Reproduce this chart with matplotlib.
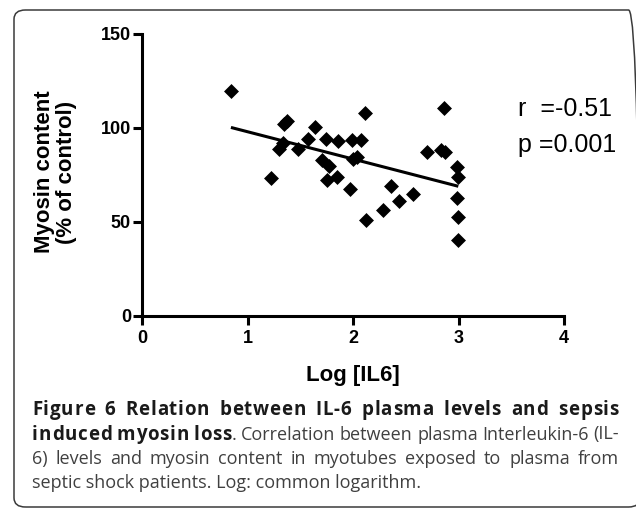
import matplotlib
matplotlib.use("Agg")
import matplotlib.pyplot as plt
from matplotlib.patches import FancyBboxPatch

# ---- data ----
log_il6 = [0.843, 1.373, 1.348, 1.641, 1.578, 1.745, 1.856, 1.989, 2.074, 2.115,
           1.341, 1.303, 1.474, 1.224, 1.707, 1.777, 1.758, 1.846, 1.973, 2.004,
           2.036, 2.124, 2.288, 2.358, 2.440, 2.572, 2.699, 2.863, 2.831, 2.875,
           2.983, 2.998, 2.983, 2.998, 2.998]
myosin = [119.8, 103.9, 102.1, 100.4, 94.0, 94.0, 93.3, 93.6, 93.6, 108.1,
          92.2, 88.7, 88.8, 73.2, 83.0, 79.8, 72.3, 73.8, 67.7, 83.3,
          84.4, 51.1, 56.4, 69.1, 61.0, 64.9, 87.2, 110.8, 88.3, 87.2,
          79.1, 73.8, 62.9, 52.5, 40.4]
fit_x = [0.843, 2.998]
fit_y = [100.3, 69.0]
x_ticks = [0, 1, 2, 3, 4]
y_ticks = [0, 50, 100, 150]
stats_lines = ["r  =-0.51", "p =0.001"]
x_label = "Log [IL6]"
y_label = "Myosin content\n(% of control)"

W, H = 636, 508
fig = plt.figure(figsize=(W / 100, H / 100), dpi=100)

def fx(px):
    return px / W

def fy(py):
    return 1 - py / H

# border
border = FancyBboxPatch((fx(14), fy(507)), fx(640 - 14), (507 - 10) / H,
                        boxstyle="round,pad=0,rounding_size=0.018",
                        transform=fig.transFigure, fill=False,
                        edgecolor="#3a3a3a", linewidth=1.1)
fig.patches.append(border)

ax = fig.add_axes([fx(142), fy(316), (564 - 142) / W, (316 - 34) / H])
ax.set_xlim(0, 4)
ax.set_ylim(0, 150)
ax.set_xticks(x_ticks)
ax.set_yticks(y_ticks)
for s in ["top", "right"]:
    ax.spines[s].set_visible(False)
for s in ["left", "bottom"]:
    ax.spines[s].set_linewidth(2.2)
ax.tick_params(axis="both", length=6.5, width=2.2, direction="out")
ax.tick_params(axis="y", pad=1.5)
ax.tick_params(axis="x", pad=3.5)
for lab in ax.get_xticklabels() + ax.get_yticklabels():
    lab.set_fontfamily("Liberation Sans")
    lab.set_fontweight("bold")
    lab.set_fontsize(13)

ax.plot(fit_x, fit_y, color="black", linewidth=2.2, solid_capstyle="butt", zorder=2)
ax.scatter(log_il6, myosin, marker="D", s=58, color="black", linewidths=0,
           zorder=3, clip_on=False)

ax.set_xlabel(x_label, fontsize=16, fontweight="bold", family="Liberation Sans")
ax.xaxis.set_label_coords(0.5, (316 - 375) / 282)
ax.xaxis.label.set_va("center")
ax.set_ylabel(y_label, fontsize=16, fontweight="bold", family="Liberation Sans",
              linespacing=1.1, multialignment="center")
ax.yaxis.set_label_coords((55.5 - 142) / 422, (316 - 172) / 282)
ax.yaxis.label.set_va("center")

fig.text(fx(518), fy(116), stats_lines[0], fontsize=18, family="Liberation Sans",
         va="baseline", ha="left")
fig.text(fx(518), fy(152), stats_lines[1], fontsize=18, family="Liberation Sans",
         va="baseline", ha="left")

# ---- caption (justified, bold letter-spaced) ----
cap_font = "Open Sans"
sizes = {"bold": 13.5, "normal": 13}
bold_c = "#1a1a1a"
reg_c = "#404040"
renderer = fig.canvas.get_renderer()
_cache = {}

def seg_w(text, weight):
    key = (text, weight)
    if key not in _cache:
        t = fig.text(0, 0, text, fontsize=sizes[weight], family=cap_font, fontweight=weight)
        _cache[key] = t.get_window_extent(renderer).width
        t.remove()
    return _cache[key]

B, R = "bold", "normal"
line1 = [[("Figure", B)], [("6", B)], [("Relation", B)], [("between", B)], [("IL-6", B)],
         [("plasma", B)], [("levels", B)], [("and", B)], [("sepsis", B)]]
line2 = [[("induced", B)], [("myosin", B)], [("loss", B), (".", R)], [("Correlation", R)],
         [("between", R)], [("plasma", R)], [("Interleukin-6", R)], [("(IL-", R)]]
line3 = [[("6)", R)], [("levels", R)], [("and", R)], [("myosin", R)], [("content", R)],
         [("in", R)], [("myotubes", R)], [("exposed", R)], [("to", R)], [("plasma", R)],
         [("from", R)]]
line4_text = "septic shock patients. Log: common logarithm."

left_px, right_px = 32, 619
baselines = [415, 439.5, 464, 488.5]
word_gap1 = 10.0

def seg_layout(text, weight, track):
    if weight == B and track > 0 and len(text) > 1:
        offs = [seg_w(text[:i], weight) if i else 0.0 for i in range(len(text))]
        offs = [o + track * i for i, o in enumerate(offs)]
        return [(c, o) for c, o in zip(text, offs)], seg_w(text, weight) + track * (len(text) - 1)
    return [(text, 0.0)], seg_w(text, weight)

n_chars = sum(len(t) for word in line1 for t, _ in word)
raw = sum(seg_w(t, w) for word in line1 for t, w in word)
track = (right_px - left_px - raw - word_gap1 * (len(line1) - 1)) / (n_chars - len(line1))
track = max(track, 0.0)

def draw_justified(words, base):
    lay = [[(seg_layout(t, w, track), w) for t, w in word] for word in words]
    total = sum(l[1] for word in lay for l, _ in word)
    gap = (right_px - left_px - total) / (len(words) - 1)
    x = left_px
    for word in lay:
        for (chars, sw), w in word:
            for c, o in chars:
                fig.text(fx(x + o), fy(base), c, fontsize=sizes[w], family=cap_font,
                         fontweight=w, color=bold_c if w == B else reg_c,
                         va="baseline", ha="left")
            x += sw
        x += gap

draw_justified(line1, baselines[0])
draw_justified(line2, baselines[1])
draw_justified(line3, baselines[2])
fig.text(fx(left_px), fy(baselines[3]), line4_text, fontsize=sizes[R], family=cap_font,
         color=reg_c, va="baseline", ha="left")

fig.savefig("out.png", dpi=100)
